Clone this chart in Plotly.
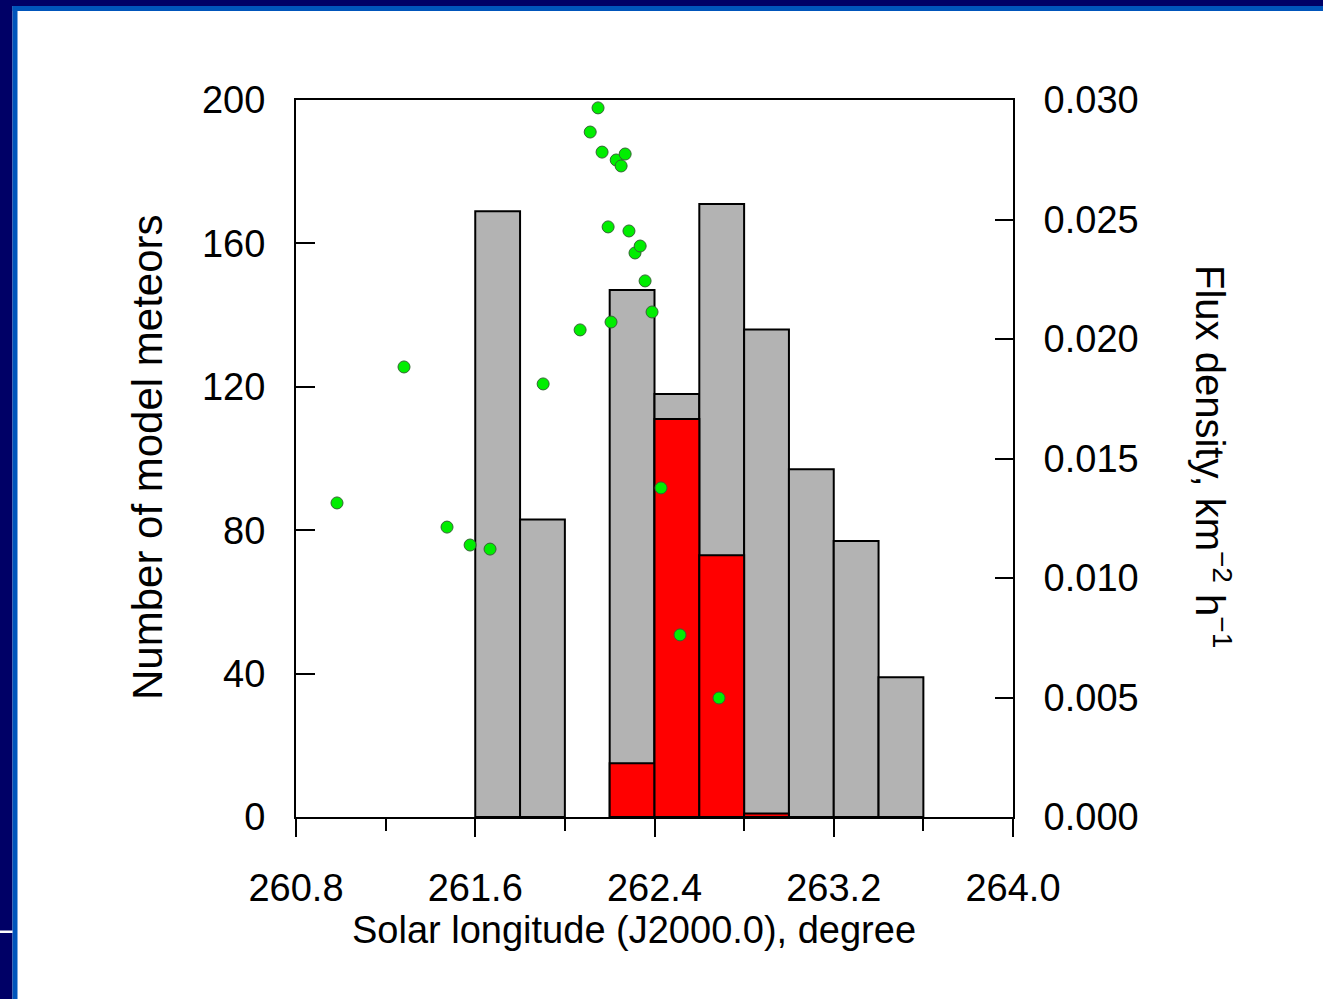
import plotly.graph_objects as go

# ---- data ----
bin_centers = [261.7, 261.9, 262.3, 262.5, 262.7, 262.9, 263.1, 263.3, 263.5]
model_all = [169, 83, 147, 118, 171, 136, 97, 77, 39]
red_centers = [262.3, 262.5, 262.7, 262.9]
model_red = [15, 111, 73, 1]

flux_x = [260.983, 261.282, 261.474, 261.577, 261.666, 261.903, 262.068, 262.113,
          262.148, 262.166, 262.193, 262.206, 262.229, 262.251, 262.269, 262.286,
          262.313, 262.336, 262.358, 262.389, 262.429, 262.514, 262.688]
flux_y = [0.01314, 0.01883, 0.01213, 0.01138, 0.01121, 0.01812, 0.02038, 0.02866,
          0.02967, 0.02782, 0.02469, 0.02071, 0.02749, 0.02724, 0.02774, 0.02452,
          0.02360, 0.02389, 0.02243, 0.02113, 0.01377, 0.00762, 0.00498]

x_ticks = [260.8, 261.6, 262.4, 263.2, 264.0]
x_ticklabels = ["260.8", "261.6", "262.4", "263.2", "264.0"]
y_ticks = [0, 40, 80, 120, 160, 200]
y2_ticks = [0, 0.005, 0.010, 0.015, 0.020, 0.025, 0.030]

FONT = "Liberation Sans, Arial, sans-serif"
W, H = 1323, 999
L, R, T, B = 296, 1013, 100, 817


def px(xp):
    return (xp - L) / (R - L)


def py(yp):
    return (B - yp) / (B - T)


fig = go.Figure()
fig.add_trace(go.Bar(x=bin_centers, y=model_all, width=0.2,
                     marker=dict(color="#B3B3B3", line=dict(color="black", width=2)),
                     yaxis="y", showlegend=False))
fig.add_trace(go.Bar(x=red_centers, y=model_red, width=0.2,
                     marker=dict(color="#FF0000", line=dict(color="black", width=2)),
                     yaxis="y", showlegend=False))
fig.add_trace(go.Scatter(x=flux_x, y=flux_y, mode="markers", yaxis="y2",
                         marker=dict(size=12, color="#00EE00",
                                     line=dict(color="#336633", width=1)),
                         showlegend=False))

fig.update_layout(
    width=W, height=H,
    margin=dict(l=L, r=W - R, t=T, b=H - B, pad=0),
    paper_bgcolor="white", plot_bgcolor="white",
    barmode="overlay",
    font=dict(family=FONT, size=38, color="black"),
    xaxis=dict(range=[260.8, 264.0], tickvals=x_ticks, ticktext=x_ticklabels,
               ticks="outside", ticklen=18, tickwidth=2, tickcolor="black",
               minor=dict(dtick=0.4, tick0=260.8, ticks="outside", ticklen=12,
                          tickwidth=2, tickcolor="black"),
               showline=True, linecolor="black", linewidth=2, mirror=True,
               showgrid=False, zeroline=False, ticklabelstandoff=18,
               tickfont=dict(size=38)),
    yaxis=dict(range=[0, 200], tickvals=y_ticks, ticks="inside", ticklen=19,
               tickwidth=2, tickcolor="black", showline=True, linecolor="black",
               linewidth=2, showgrid=False, zeroline=False,
               ticklabelstandoff=21, tickfont=dict(size=38)),
    yaxis2=dict(range=[0, 0.030], tickvals=y2_ticks, tickformat=".3f",
                overlaying="y", side="right", ticks="inside", ticklen=18,
                tickwidth=2, tickcolor="black", showline=True, linecolor="black",
                linewidth=2, showgrid=False, zeroline=False,
                ticklabelstandoff=21, tickfont=dict(size=38)),
)

# titles as annotations
fig.add_annotation(text="Solar longitude (J2000.0), degree", xref="paper", yref="paper",
                   x=px(634), y=py(930), xanchor="center", yanchor="middle",
                   showarrow=False, font=dict(size=38))
fig.add_annotation(text="Number of model meteors", xref="paper", yref="paper",
                   x=px(147), y=py(457), xanchor="center", yanchor="middle",
                   textangle=-90, showarrow=False, font=dict(size=42))
fig.add_annotation(text="Flux density, km<sup>\u22122</sup> h<sup>\u22121</sup>",
                   xref="paper", yref="paper",
                   x=px(1213), y=py(456), xanchor="center", yanchor="middle",
                   textangle=90, showarrow=False, font=dict(size=40))

# slide frame
NAVY = "#000066"
BLUE = "#0055BB"
def rect(x0, y0, x1, y1, color):
    fig.add_shape(type="rect", xref="paper", yref="paper",
                  x0=px(x0), x1=px(x1), y0=py(y1), y1=py(y0),
                  fillcolor=color, line=dict(width=0), layer="above")

rect(0, 0, 12.5, H, NAVY)
rect(0, 0, W, 6, NAVY)
rect(12.5, 6, 17.5, H, BLUE)
rect(12.5, 6, W, 11, BLUE)
rect(0, 930.5, 12.5, 933, "white")

fig.write_html("out.html",
               config={"displayModeBar": False},
               post_script="document.body.style.margin='0';"
                           "document.body.style.padding='0';"
                           "document.body.style.overflow='hidden';")
